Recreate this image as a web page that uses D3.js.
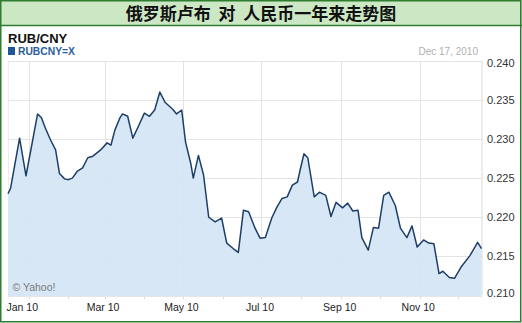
<!DOCTYPE html>
<html>
<head>
<meta charset="utf-8">
<script src="https://d3js.org/d3.v7.min.js"></script>
<style>
  body { margin: 0; background: #fff; }
  svg { display: block; }
</style>
</head>
<body>
<svg width="522" height="323"></svg>
<script>
// RUB/CNY daily-ish closes
var dates = [
  "2009-12-16","2009-12-18","2009-12-25","2009-12-30","2010-01-08","2010-01-11","2010-01-14","2010-01-18",
  "2010-01-22","2010-01-25","2010-01-29","2010-02-01","2010-02-04","2010-02-08","2010-02-12","2010-02-16",
  "2010-02-20","2010-02-26","2010-03-03","2010-03-06","2010-03-09","2010-03-13","2010-03-15","2010-03-19",
  "2010-03-23","2010-03-27","2010-04-01","2010-04-05","2010-04-09","2010-04-13","2010-04-17","2010-04-23",
  "2010-04-26","2010-04-30","2010-05-03","2010-05-07","2010-05-09","2010-05-13","2010-05-17","2010-05-21",
  "2010-05-26","2010-05-31","2010-06-04","2010-06-09","2010-06-13","2010-06-17","2010-06-21","2010-06-26",
  "2010-06-30","2010-07-04","2010-07-09","2010-07-13","2010-07-17","2010-07-21","2010-07-25","2010-07-29",
  "2010-07-31","2010-08-03","2010-08-06","2010-08-11","2010-08-15","2010-08-20","2010-08-24","2010-08-28",
  "2010-09-02","2010-09-06","2010-09-10","2010-09-14","2010-09-17","2010-09-22","2010-09-26","2010-09-30",
  "2010-10-04","2010-10-08","2010-10-13","2010-10-17","2010-10-22","2010-10-26","2010-10-30","2010-11-04",
  "2010-11-08","2010-11-12","2010-11-16","2010-11-19","2010-11-24","2010-11-28","2010-12-03","2010-12-10",
  "2010-12-16","2010-12-19"
];
var rates = [
  0.2230,0.2237,0.2301,0.2253,0.2332,0.2327,0.2314,0.2299,
  0.2286,0.2256,0.2249,0.2248,0.2250,0.2259,0.2263,0.2276,
  0.2278,0.2286,0.2295,0.2292,0.2311,0.2327,0.2332,0.2329,
  0.2301,0.2315,0.2333,0.2329,0.2337,0.2360,0.2347,0.2338,
  0.2332,0.2337,0.2296,0.2269,0.2250,0.2279,0.2254,0.2200,
  0.2194,0.2199,0.2167,0.2160,0.2155,0.2209,0.2207,0.2186,
  0.2173,0.2174,0.2199,0.2213,0.2224,0.2226,0.2241,0.2245,
  0.2260,0.2281,0.2276,0.2226,0.2232,0.2228,0.2201,0.2219,
  0.2212,0.2218,0.2208,0.2209,0.2174,0.2158,0.2187,0.2186,
  0.2228,0.2232,0.2215,0.2186,0.2174,0.2189,0.2162,0.2171,
  0.2167,0.2166,0.2128,0.2131,0.2123,0.2122,0.2136,0.2151,
  0.2168,0.2160
];
var yTicks = [0.210, 0.215, 0.220, 0.225, 0.230, 0.235, 0.240];
var xLabelDates = ["2010-01-01","2010-03-01","2010-05-01","2010-07-01","2010-09-01","2010-11-01"];
var xLabels = ["Jan 10","Mar 10","May 10","Jul 10","Sep 10","Nov 10"];

var parse = d3.timeParse("%Y-%m-%d");
var data = dates.map(function(d, i) { return { date: parse(d), value: rates[i] }; });

var svg = d3.select("svg");
var W = 522, H = 323;
var plotLeft = 8, plotRight = 481.5, plotTop = 60.7, plotBottom = 295.5;

var x = d3.scaleTime()
    .domain([parse("2009-12-16"), parse("2010-12-19")])
    .range([plotLeft, plotRight]);
var y = d3.scaleLinear()
    .domain([0.210, 0.240])
    .range([plotBottom, plotTop]);

// title bar
svg.append("rect").attr("x", 0).attr("y", 0).attr("width", W).attr("height", 25.5)
    .attr("fill", "#cbe7c4");
svg.append("line").attr("x1", 0).attr("x2", W).attr("y1", 25.5).attr("y2", 25.5)
    .attr("stroke", "#2f7d2f").attr("stroke-width", 1.3);
svg.append("text")
    .attr("x", 261).attr("y", 19.5)
    .attr("text-anchor", "middle")
    .attr("font-family", "'Noto Sans CJK SC', sans-serif")
    .attr("font-weight", "bold")
    .attr("font-size", 17)
    .attr("fill", "#111")
    .style("white-space", "pre")
    .text("俄罗斯卢布  对  人民币一年来走势图");

// header texts
svg.append("text").attr("x", 8).attr("y", 42.5)
    .attr("font-family", "Arial, 'Liberation Sans', sans-serif")
    .attr("font-weight", "bold").attr("font-size", 13).attr("fill", "#111")
    .text("RUB/CNY");
svg.append("rect").attr("x", 8).attr("y", 47).attr("width", 7).attr("height", 8)
    .attr("fill", "#20579a");
svg.append("text").attr("x", 18).attr("y", 55)
    .attr("font-family", "Arial, 'Liberation Sans', sans-serif")
    .attr("font-weight", "bold").attr("font-size", 10.3).attr("fill", "#2a5d9c")
    .text("RUBCNY=X");
svg.append("text").attr("x", 478).attr("y", 55)
    .attr("text-anchor", "end")
    .attr("font-family", "Arial, 'Liberation Sans', sans-serif")
    .attr("font-size", 10).attr("fill", "#b0b0b0")
    .text("Dec 17, 2010");

// grid
var grid = svg.append("g");
grid.selectAll(".hg").data(yTicks).enter().append("line")
    .attr("x1", plotLeft).attr("x2", plotRight + 1)
    .attr("y1", function(d) { return Math.round(y(d)) + 0.5; })
    .attr("y2", function(d) { return Math.round(y(d)) + 0.5; })
    .attr("stroke", "#e4e4e4");
grid.selectAll(".vg").data(xLabelDates).enter().append("line")
    .attr("x1", function(d) { return Math.round(x(parse(d))) + 0.5; })
    .attr("x2", function(d) { return Math.round(x(parse(d))) + 0.5; })
    .attr("y1", plotTop).attr("y2", plotBottom)
    .attr("stroke", "#e4e4e4");
grid.append("line").attr("x1", plotRight + 0.5).attr("x2", plotRight + 0.5)
    .attr("y1", plotTop).attr("y2", plotBottom).attr("stroke", "#dcdcdc");
grid.append("line").attr("x1", plotLeft + 0.5).attr("x2", plotLeft + 0.5)
    .attr("y1", plotTop).attr("y2", plotBottom).attr("stroke", "#ececec");

// area + line
var area = d3.area()
    .x(function(d) { return x(d.date); })
    .y0(plotBottom + 0.5)
    .y1(function(d) { return y(d.value); });
var line = d3.line()
    .x(function(d) { return x(d.date); })
    .y(function(d) { return y(d.value); });

svg.append("path").datum(data)
    .attr("d", area)
    .attr("fill", "#d5e5f5")
    .attr("fill-opacity", 0.92);
svg.append("path").datum(data)
    .attr("d", line)
    .attr("fill", "none")
    .attr("stroke", "#1d3f67")
    .attr("stroke-width", 1.5)
    .attr("stroke-linejoin", "round");

// month ticks under the plot
var months = d3.timeMonth.range(parse("2010-01-01"), parse("2010-12-19"));
svg.selectAll(".mt").data(months).enter().append("line")
    .attr("x1", function(d) { return Math.round(x(d)) + 0.5; })
    .attr("x2", function(d) { return Math.round(x(d)) + 0.5; })
    .attr("y1", plotBottom + 0.5).attr("y2", plotBottom + 3.5)
    .attr("stroke", "#d8d8d8");
svg.append("line").attr("x1", plotLeft).attr("x2", plotRight)
    .attr("y1", plotBottom + 1).attr("y2", plotBottom + 1)
    .attr("stroke", "#e6e6e6");

// y labels
svg.selectAll(".yl").data(yTicks).enter().append("text")
    .attr("x", 487)
    .attr("y", function(d) { return Math.min(Math.max(y(d), 63), 292.7) + 4; })
    .attr("font-family", "Arial, 'Liberation Sans', sans-serif")
    .attr("font-size", 11).attr("fill", "#333")
    .text(function(d) { return d3.format(".3f")(d); });

// x labels
svg.selectAll(".xl").data(xLabelDates).enter().append("text")
    .attr("x", function(d, i) { return i === 0 ? 6.5 : x(parse(d)) - 1.5; })
    .attr("y", 310.5)
    .attr("text-anchor", function(d, i) { return i === 0 ? "start" : "middle"; })
    .attr("font-family", "Arial, 'Liberation Sans', sans-serif")
    .attr("font-size", 10.5).attr("fill", "#222")
    .text(function(d, i) { return xLabels[i]; });

svg.append("text").attr("x", 12.5).attr("y", 290.5)
    .attr("font-family", "Arial, 'Liberation Sans', sans-serif")
    .attr("font-size", 10.5).attr("fill", "#7a7a7a")
    .text("© Yahoo!");

// outer frame
svg.append("rect").attr("x", 0.75).attr("y", 0.75).attr("width", W - 2).attr("height", H - 2)
    .attr("fill", "none").attr("stroke", "#2f7d2f").attr("stroke-width", 1.5);
</script>
</body>
</html>
